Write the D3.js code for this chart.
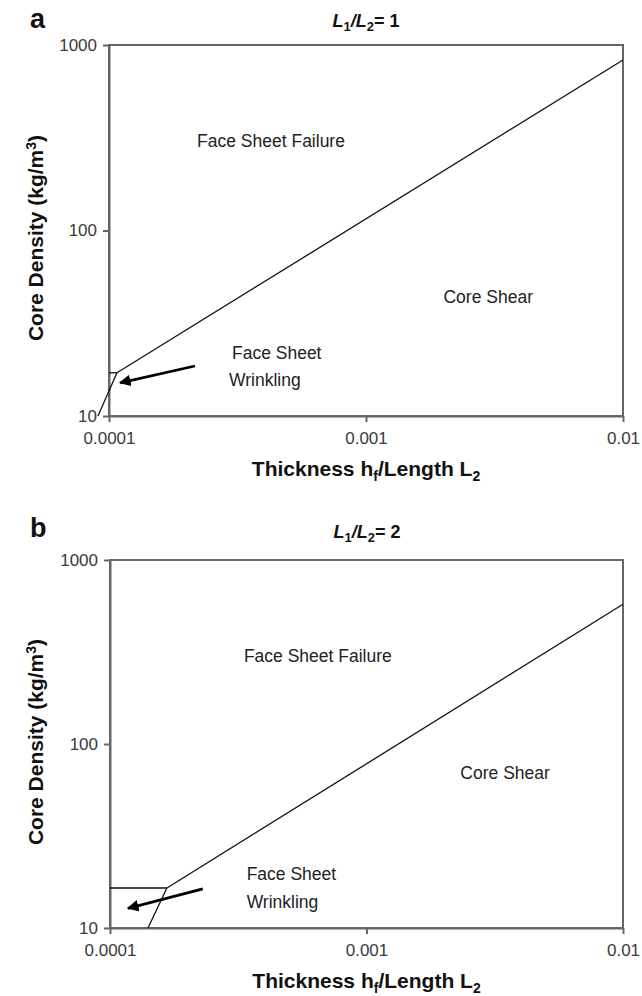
<!DOCTYPE html>
<html>
<head>
<meta charset="utf-8">
<script src="https://cdn.jsdelivr.net/npm/d3@7"></script>
<style>
  html, body { margin: 0; padding: 0; background: #fff; }
  svg { display: block; font-family: "Liberation Sans", Arial, sans-serif; }
</style>
</head>
<body>
<svg id="chart" width="642" height="996"></svg>
<script>
// Failure-mode maps: core density vs face thickness ratio, two aspect ratios
const xTicks = [0.0001, 0.001, 0.01];
const xTickLabels = ["0.0001", "0.001", "0.01"];
const yTicks = [10, 100, 1000];
const yTickLabels = ["10", "100", "1000"];

// Panel a (L1/L2 = 1) boundaries: [thickness ratio, density]
const aWrinkleSteep = [[9.06e-5, 10], [1.074e-4, 17.1]];
const aWrinkleFlat  = [[1e-4, 17.1], [1.074e-4, 17.1]];
const aShearLine    = [[1.074e-4, 17.1], [0.01, 830]];
const aArrow        = [[2.16e-4, 18.6], [1.104e-4, 15.1]];
const aRegionText   = [
  { text: "Face Sheet Failure", at: [4.27e-4, 297], anchor: "middle" },
  { text: "Core Shear", at: [2.99e-3, 43], anchor: "middle" },
  { text: "Face Sheet", at: [3.01e-4, 21.6], anchor: "start" },
  { text: "Wrinkling", at: [2.93e-4, 15.3], anchor: "start" }
];

// Panel b (L1/L2 = 2) boundaries
const bWrinkleSteep = [[1.406e-4, 10], [1.667e-4, 16.5]];
const bWrinkleFlat  = [[1e-4, 16.5], [1.667e-4, 16.5]];
const bShearLine    = [[1.667e-4, 16.5], [0.01, 575]];
const bArrow        = [[2.30e-4, 16.3], [1.175e-4, 12.8]];
const bRegionText   = [
  { text: "Face Sheet Failure", at: [6.46e-4, 297], anchor: "middle" },
  { text: "Core Shear", at: [3.47e-3, 68.7], anchor: "middle" },
  { text: "Face Sheet", at: [3.41e-4, 19.4], anchor: "start" },
  { text: "Wrinkling", at: [3.41e-4, 13.6], anchor: "start" }
];

const svg = d3.select("#chart");

svg.append("defs").append("marker")
  .attr("id", "head")
  .attr("viewBox", "0 0 10 10")
  .attr("refX", 9).attr("refY", 5)
  .attr("markerWidth", 4.2).attr("markerHeight", 4.2)
  .attr("markerUnits", "strokeWidth")
  .attr("orient", "auto")
  .append("path")
  .attr("d", "M0,0 L10,5 L0,10 Z")
  .attr("fill", "#000");

function drawPanel(p) {
  const x = d3.scaleLog().domain([0.0001, 0.01]).range([p.left, p.right]);
  const y = d3.scaleLog().domain([10, 1000]).range([p.bottom, p.top]);
  const g = svg.append("g");

  // plot frame
  g.append("rect")
    .attr("x", p.left).attr("y", p.top)
    .attr("width", p.right - p.left).attr("height", p.bottom - p.top)
    .attr("fill", "none").attr("stroke", "#666").attr("stroke-width", 2);

  // axes
  const xAxis = d3.axisBottom(x).tickValues(xTicks)
    .tickFormat((d, i) => xTickLabels[i]).tickSize(6).tickSizeOuter(0).tickPadding(10);
  const yAxis = d3.axisLeft(y).tickValues(yTicks)
    .tickFormat((d, i) => yTickLabels[i]).tickSize(6).tickSizeOuter(0).tickPadding(6);

  const gx = g.append("g").attr("transform", `translate(0,${p.bottom})`).call(xAxis);
  const gy = g.append("g").attr("transform", `translate(${p.left},0)`).call(yAxis);
  [gx, gy].forEach(a => {
    a.select(".domain").attr("stroke", "#666").attr("stroke-width", 2);
    a.selectAll(".tick line").attr("stroke", "#666").attr("stroke-width", 2);
    a.selectAll(".tick text").attr("fill", "#3a3a3a").style("font-size", "17px")
      .style("font-family", "'Liberation Sans', Arial, sans-serif");
  });

  // boundary lines
  const line = d3.line().x(d => x(d[0])).y(d => y(d[1]));
  [p.steep, p.flat, p.shear].forEach(seg => {
    g.append("path").attr("d", line(seg))
      .attr("fill", "none").attr("stroke", "#111").attr("stroke-width", 1.3);
  });

  // arrow pointing into the wrinkling region
  g.append("path").attr("d", line(p.arrow))
    .attr("fill", "none").attr("stroke", "#000").attr("stroke-width", 2.8)
    .attr("marker-end", "url(#head)");

  // region labels
  g.selectAll(".region").data(p.regions).enter().append("text")
    .attr("x", d => x(d.at[0])).attr("y", d => y(d.at[1]))
    .attr("text-anchor", d => d.anchor).attr("dominant-baseline", "middle")
    .style("font-size", "17.5px").attr("fill", "#222")
    .text(d => d.text);

  // panel title: L1/L2 = n
  const cx = (p.left + p.right) / 2;
  const t = g.append("text").attr("x", p.titleX).attr("y", p.titleY)
    .attr("text-anchor", "middle").style("font-size", "18px")
    .style("font-weight", "bold").attr("fill", "#111");
  t.append("tspan").style("font-style", "italic").text("L");
  t.append("tspan").attr("dy", 4).style("font-size", "13px").text("1");
  t.append("tspan").attr("dy", -4).style("font-style", "italic").text("/L");
  t.append("tspan").attr("dy", 4).style("font-size", "13px").text("2");
  t.append("tspan").attr("dy", -4).text("= " + p.ratio);

  // panel letter
  g.append("text").attr("x", 30).attr("y", p.letterY)
    .style("font-size", "27px").style("font-weight", "bold").attr("fill", "#111")
    .text(p.letter);

  // x axis title
  const xt = g.append("text").attr("x", cx).attr("y", p.bottom + 60)
    .attr("text-anchor", "middle").style("font-size", "21px")
    .style("font-weight", "bold").attr("fill", "#111");
  xt.append("tspan").text("Thickness h");
  xt.append("tspan").attr("dy", 5).style("font-size", "14px").text("f");
  xt.append("tspan").attr("dy", -5).text("/Length L");
  xt.append("tspan").attr("dy", 5).style("font-size", "14px").text("2");

  // y axis title
  const yt = g.append("text")
    .attr("transform", `translate(43,${p.yTitleY}) rotate(-90)`)
    .attr("text-anchor", "middle").style("font-size", "21px")
    .style("font-weight", "bold").attr("fill", "#111");
  yt.append("tspan").text("Core Density (kg/m");
  yt.append("tspan").attr("dy", -7).style("font-size", "14px").text("3");
  yt.append("tspan").attr("dy", 7).text(")");
}

drawPanel({
  letter: "a", ratio: 1, letterY: 28, titleX: 366, titleY: 27, yTitleY: 238,
  left: 109, right: 623, top: 45, bottom: 416,
  steep: aWrinkleSteep, flat: aWrinkleFlat, shear: aShearLine,
  arrow: aArrow, regions: aRegionText
});

drawPanel({
  letter: "b", ratio: 2, letterY: 537, titleX: 367, titleY: 538, yTitleY: 742,
  left: 110, right: 623, top: 560, bottom: 928,
  steep: bWrinkleSteep, flat: bWrinkleFlat, shear: bShearLine,
  arrow: bArrow, regions: bRegionText
});
</script>
</body>
</html>
